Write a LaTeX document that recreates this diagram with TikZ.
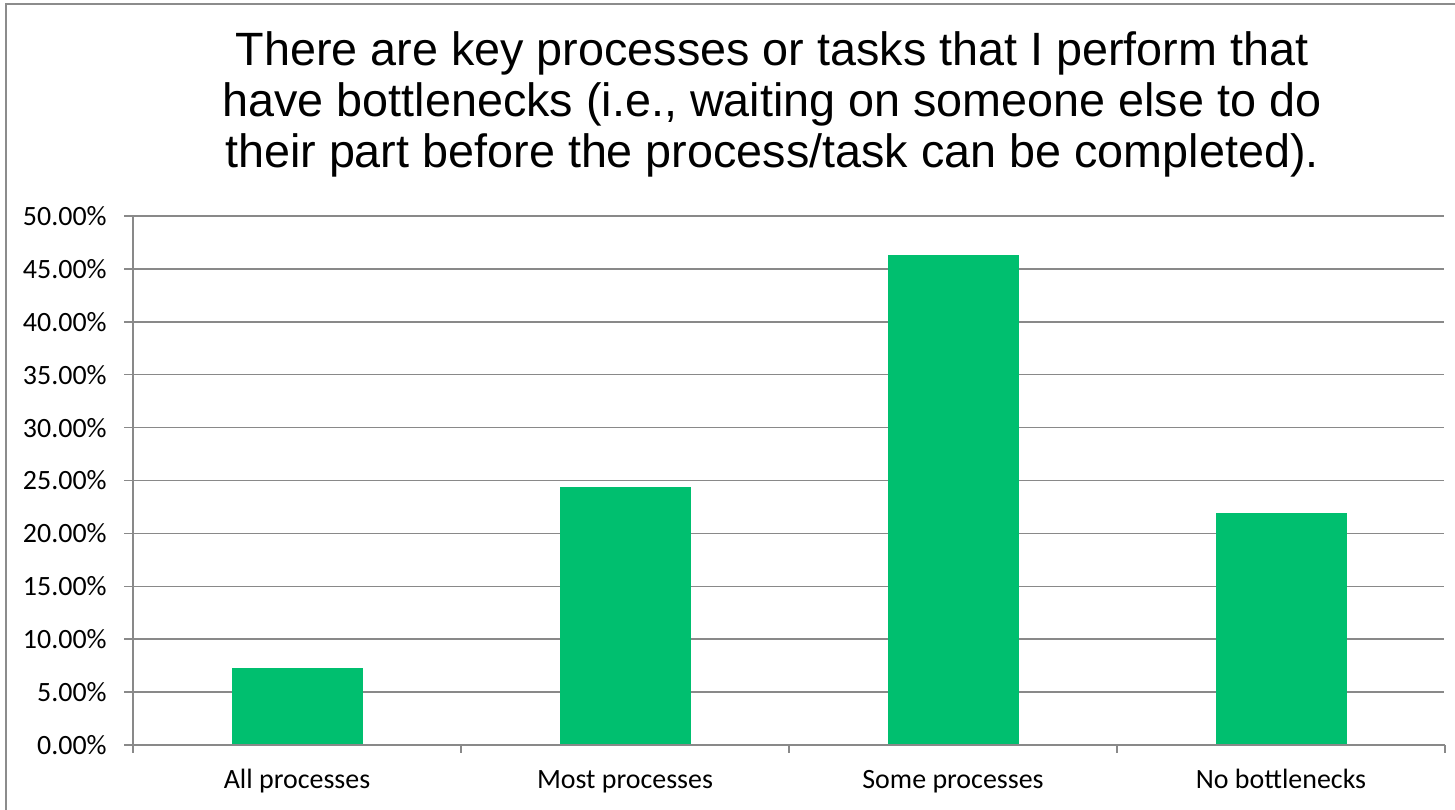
\documentclass[tikz,border=0pt]{standalone}
\usepackage{fontspec}
\setmainfont{Carlito}
\newfontfamily\titlefont{Liberation Sans}
\definecolor{bargreen}{HTML}{00BF6F}
\definecolor{gridgray}{HTML}{898989}
\definecolor{framegray}{HTML}{8C8C8C}
\begin{document}
\begin{tikzpicture}[x=0.02cm,y=-0.02cm,
  grid/.style={draw=gridgray,line width=0.85pt},
  bar/.style={fill=bargreen,draw=none},
  ylab/.style={anchor=east,font=\fontsize{15.9}{18}\selectfont,inner sep=0pt},
  xlab/.style={anchor=base,font=\fontsize{15.9}{18}\selectfont,inner sep=0pt},
  titletext/.style={anchor=base,font=\titlefont\fontsize{26.6}{30}\selectfont,inner sep=0pt}]
\useasboundingbox (0,0) rectangle (1455,809);
\fill[white] (0,0) rectangle (1455,809);
% frame
\draw[draw=framegray,line width=1.1pt] (6,812) -- (6,4) -- (1458,4);
% title
\node[titletext] (t1) at (772,65) {There are key processes or tasks that I perform that};
\node[titletext] (t2) at (772,116) {have bottlenecks (i.e., waiting on someone else to do};
\node[titletext] (t3) at (772,167) {their part before the process/task can be completed).};
% gridlines and y labels
\foreach \lab [count=\k from 0] in {0.00,5.00,10.00,15.00,20.00,25.00,30.00,35.00,40.00,45.00,50.00}{
  \pgfmathsetmacro{\yy}{745-52.9*\k}
  \draw[grid] (124,\yy) -- (1444,\yy);
  \node[ylab] (y\k) at (107,\yy) {\lab\%};
}
% bars
\foreach \c/\v [count=\k] in {297/7.317,625/24.39,953/46.34,1281/21.95}{
  \pgfmathsetmacro{\top}{745-10.58*\v}
  \fill[bar] (\c-65.5,744.4) rectangle (\c+65.5,\top);
}
% axes
\draw[grid] (133,216) -- (133,753);
\draw[grid] (124,745) -- (1445,745);
\foreach \x in {461,789,1117,1445}{
  \draw[grid] (\x,745) -- (\x,753);
}
% category labels
\node[xlab] (c1) at (297,788) {All processes};
\node[xlab] (c2) at (625,788) {Most processes};
\node[xlab] (c3) at (953,788) {Some processes};
\node[xlab] (c4) at (1281,788) {No bottlenecks};
\end{tikzpicture}
\end{document}
